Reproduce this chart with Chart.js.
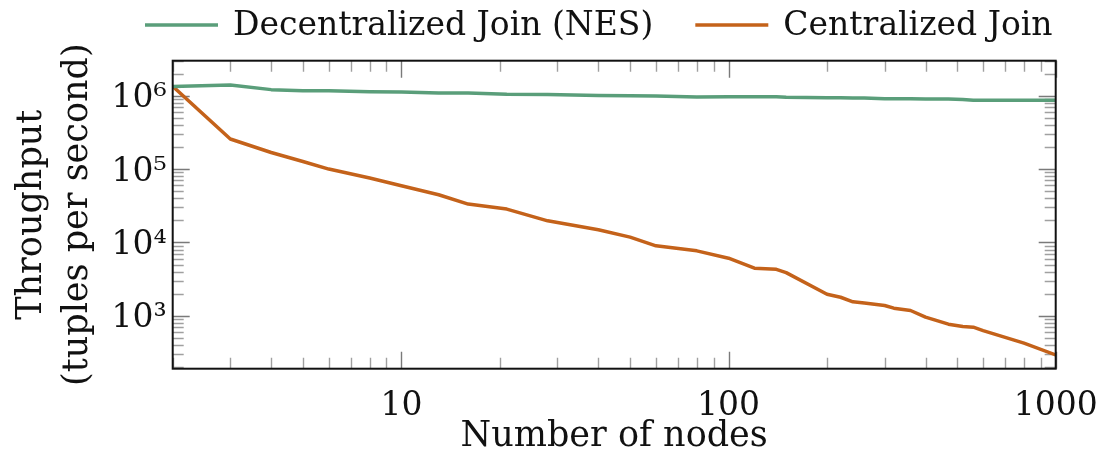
<!DOCTYPE html>
<html>
<head>
<meta charset="utf-8">
<script src="https://cdn.jsdelivr.net/npm/chart.js@4.4.1/dist/chart.umd.min.js"></script>
<style>
  html, body { margin: 0; padding: 0; background: #fff; }
  #wrap { width: 1104px; height: 458px; }
</style>
</head>
<body>
<div id="wrap"><canvas id="c" width="1104" height="458"></canvas></div>
<script>
// ---- data ----
const nodes = [2, 3, 4, 5, 6, 8, 10, 13, 16, 21, 28, 40, 50, 60, 80, 100, 120, 140, 150,
               200, 220, 240, 260, 300, 320, 360, 400, 470, 520, 560, 600, 800, 1000];
const decentralized = [1.34e6, 1.40e6, 1.21e6, 1.17e6, 1.17e6, 1.13e6, 1.12e6, 1.09e6, 1.09e6,
                       1.05e6, 1.04e6, 1.01e6, 1.00e6, 0.99e6, 0.96e6, 0.97e6, 0.97e6, 0.97e6, 0.95e6,
                       0.94e6, 0.94e6, 0.93e6, 0.93e6, 0.91e6, 0.91e6, 0.91e6, 0.90e6, 0.90e6, 0.89e6,
                       0.87e6, 0.87e6, 0.87e6, 0.87e6];
const centralized = [1.34e6, 2.57e5, 1.68e5, 1.27e5, 1.0e5, 7.54e4, 5.92e4, 4.46e4, 3.33e4,
                     2.85e4, 1.97e4, 1.49e4, 1.18e4, 8.99e3, 7.68e3, 6.09e3, 4.46e3, 4.30e3, 3.88e3,
                     1.97e3, 1.79e3, 1.55e3, 1.49e3, 1.38e3, 1.27e3, 1.18e3, 957, 768, 713,
                     699, 628, 423, 293];
const seriesLabels = ['Decentralized Join (NES)', 'Centralized Join'];
const xTickValues = [10, 100, 1000];
const xTickLabels = ['10', '100', '1000'];
const yTickValues = [1e3, 1e4, 1e5, 1e6];
const yTickLabels = ['10\u00B3', '10\u2074', '10\u2075', '10\u2076'];
const xRange = [2, 1000];
const yRange = [190, 3e6];

const GREEN = 'rgb(90,158,122)';
const ORANGE = 'rgb(196,98,26)';
const FONT = "'DejaVu Serif', serif";

const toPoints = (ys) => nodes.map((x, i) => ({ x: x, y: ys[i] }));

// inward tick marks on all four sides + frame (pgfplots style)
const frameTicks = {
  id: 'frameTicks',
  beforeDatasetsDraw(chart) {
    const { ctx, chartArea: a, scales } = chart;
    const xs = scales.x, ys = scales.y;
    ctx.save();
    ctx.lineWidth = 1.4;
    const decadeTicks = (min, max) => {
      const out = [];
      for (let k = Math.floor(Math.log10(min)); k <= Math.ceil(Math.log10(max)); k++) {
        for (let m = 1; m <= 9; m++) {
          const v = m * Math.pow(10, k);
          if (v >= min * 0.999 && v <= max * 1.001) out.push({ v: v, major: m === 1 });
        }
      }
      return out;
    };
    decadeTicks(xs.min, xs.max).forEach(t => {
      const px = Math.round(xs.getPixelForValue(t.v)) + 0.5;
      const len = t.major ? 17 : 11;
      ctx.strokeStyle = t.major ? '#7a7a7a' : '#a0a0a0';
      ctx.beginPath();
      ctx.moveTo(px, a.bottom); ctx.lineTo(px, a.bottom - len);
      ctx.moveTo(px, a.top); ctx.lineTo(px, a.top + len);
      ctx.stroke();
    });
    decadeTicks(ys.min, ys.max).forEach(t => {
      const py = Math.round(ys.getPixelForValue(t.v)) + 0.5;
      const len = t.major ? 17 : 11;
      ctx.strokeStyle = t.major ? '#7a7a7a' : '#a0a0a0';
      ctx.beginPath();
      ctx.moveTo(a.left, py); ctx.lineTo(a.left + len, py);
      ctx.moveTo(a.right, py); ctx.lineTo(a.right - len, py);
      ctx.stroke();
    });
    ctx.restore();
  },
  afterDatasetsDraw(chart) {
    const { ctx, chartArea: a } = chart;
    ctx.save();
    ctx.strokeStyle = '#111';
    ctx.lineWidth = 2;
    ctx.strokeRect(a.left, a.top, a.right - a.left, a.bottom - a.top);
    ctx.restore();
  }
};

// horizontal legend above the plot (line sample + label), built from the datasets
const lineLegend = {
  id: 'lineLegend',
  afterDraw(chart) {
    const ctx = chart.ctx;
    const o = chart.options.plugins.lineLegend;
    ctx.save();
    ctx.font = o.fontSize + 'px ' + FONT;
    ctx.textBaseline = 'middle';
    ctx.textAlign = 'left';
    let x = o.startX;
    chart.data.datasets.forEach(ds => {
      ctx.strokeStyle = ds.borderColor;
      ctx.lineWidth = 3.6;
      ctx.beginPath();
      ctx.moveTo(x, o.y); ctx.lineTo(x + o.sample, o.y);
      ctx.stroke();
      x += o.sample + o.gap;
      ctx.fillStyle = '#111';
      ctx.fillText(ds.label, x, o.y + 1);
      x += ctx.measureText(ds.label).width + o.itemGap;
    });
    ctx.restore();
  }
};

new Chart(document.getElementById('c'), {
  type: 'line',
  data: {
    datasets: [
      { label: seriesLabels[0], data: toPoints(decentralized), borderColor: GREEN, backgroundColor: GREEN,
        borderWidth: 3.5, pointRadius: 0, tension: 0, borderJoinStyle: 'round' },
      { label: seriesLabels[1], data: toPoints(centralized), borderColor: ORANGE, backgroundColor: ORANGE,
        borderWidth: 3.5, pointRadius: 0, tension: 0, borderJoinStyle: 'round' }
    ]
  },
  options: {
    responsive: false,
    animation: false,
    devicePixelRatio: 1,
    layout: { padding: { left: 0, right: 48.3, top: 60.7, bottom: 0 } },
    plugins: {
      tooltip: { enabled: false },
      legend: { display: false },
      lineLegend: { startX: 145, y: 25, sample: 73, gap: 15, itemGap: 42, fontSize: 33 }
    },
    scales: {
      x: {
        type: 'logarithmic',
        min: xRange[0],
        max: xRange[1],
        grid: { display: false, drawTicks: false },
        border: { display: false },
        afterBuildTicks(scale) { scale.ticks = xTickValues.map(v => ({ value: v })); },
        afterFit(scale) { scale.height = 89.3; scale.paddingLeft = 0; scale.paddingRight = 0; },
        ticks: {
          autoSkip: false, maxRotation: 0, padding: 18, color: '#111',
          font: { family: FONT, size: 33 },
          callback(value) { const i = xTickValues.indexOf(value); return i >= 0 ? xTickLabels[i] : ''; }
        },
        title: { display: true, text: 'Number of nodes', color: '#111',
                 font: { family: FONT, size: 35 }, padding: { top: 0, bottom: 0 } }
      },
      y: {
        type: 'logarithmic',
        min: yRange[0],
        max: yRange[1],
        grid: { display: false, drawTicks: false },
        border: { display: false },
        afterBuildTicks(scale) { scale.ticks = yTickValues.map(v => ({ value: v })); },
        afterFit(scale) { scale.width = 172.7; scale.paddingTop = 0; scale.paddingBottom = 0; },
        ticks: {
          autoSkip: false, padding: 6, color: '#111', labelOffset: 3,
          font: { family: FONT, size: 33 },
          callback(value) { const i = yTickValues.indexOf(value); return i >= 0 ? yTickLabels[i] : ''; }
        },
        title: { display: true, text: ['Throughput', '(tuples per second)'], color: '#111',
                 font: { family: FONT, size: 35, lineHeight: 1.31 }, padding: { top: 9, bottom: 0 } }
      }
    }
  },
  plugins: [frameTicks, lineLegend]
});
</script>
</body>
</html>
